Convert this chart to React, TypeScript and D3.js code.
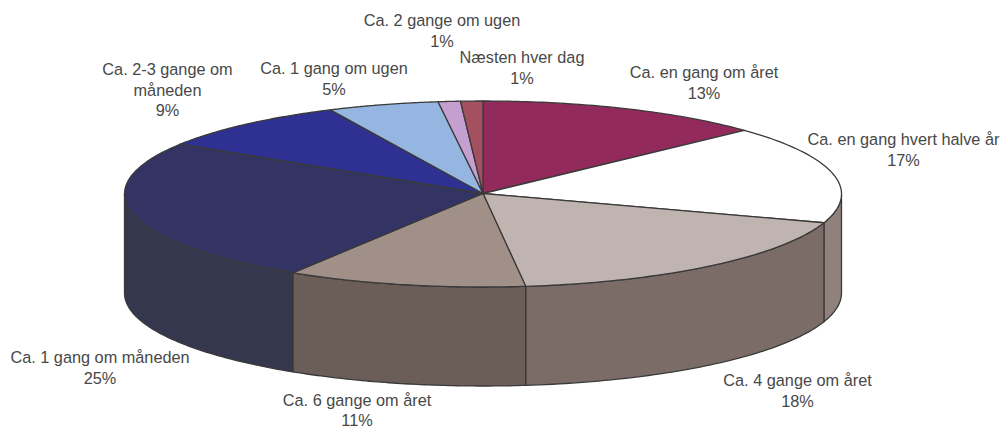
import React, { useRef, useEffect } from 'react';
import * as d3 from 'd3';

const categories = [
  'Ca. en gang om året',
  'Ca. en gang hvert halve år',
  'Ca. 4 gange om året',
  'Ca. 6 gange om året',
  'Ca. 1 gang om måneden',
  'Ca. 2-3 gange om måneden',
  'Ca. 1 gang om ugen',
  'Ca. 2 gange om ugen',
  'Næsten hver dag',
];
const shares = [13, 17, 18.1, 10.8, 25.1, 9, 5, 1, 1];
const topColors = ['#932a5c', '#ffffff', '#c0b4b0', '#a09088', '#333364', '#2e3192', '#95b6e0', '#c49fcf', '#a5505f'];
const sideColors = ['#6e1f45', '#8f817c', '#7b6c68', '#6b5d58', '#35374f', '#22246e', '#708aa8', '#93779b', '#7c3c47'];

// label placement, same order as categories: centre x, first line y, wrapped lines
const labelLines = [
  [704, 78, ['Ca. en gang om året']],
  [903.5, 145, ['Ca. en gang hvert halve år']],
  [797.5, 386, ['Ca. 4 gange om året']],
  [357, 405.5, ['Ca. 6 gange om året']],
  [100, 363, ['Ca. 1 gang om måneden']],
  [167.5, 75, ['Ca. 2-3 gange om', 'måneden']],
  [334, 74, ['Ca. 1 gang om ugen']],
  [442, 26, ['Ca. 2 gange om ugen']],
  [522, 63, ['Næsten hver dag']],
] as [number, number, string[]][];

const W = 1002;
const H = 427;
const cx = 483;
const cy = 194;
const apexY = 193.5;
const rx = 358.5;
const ry = 93;
const depth = 99;
const ink = '#3a3a3a';

const App = () => {
  const chartRef = useRef<SVGSVGElement>(null);

  useEffect(() => {
    const svg = d3.select(chartRef.current);
    svg.selectAll('*').remove();

    const pie = d3.pie<number>().sort(null);
    const slices = pie(shares);

    const px = (a: number) => cx + rx * Math.sin(a);
    const py = (a: number) => cy - ry * Math.cos(a);
    const line = d3.line<[number, number]>();

    const arcPoints = (a0: number, a1: number, dy = 0) =>
      d3.range(0, 61).map((i) => {
        const a = a0 + ((a1 - a0) * i) / 60;
        return [px(a), py(a) + dy] as [number, number];
      });

    // front wall: only the part of each slice between 90 and 270 degrees shows
    const lo = Math.PI / 2;
    const hi = (3 * Math.PI) / 2;
    svg
      .append('g')
      .selectAll('path')
      .data(slices.filter((d) => d.endAngle > lo && d.startAngle < hi))
      .enter()
      .append('path')
      .attr('d', (d) => {
        const a0 = Math.max(d.startAngle, lo);
        const a1 = Math.min(d.endAngle, hi);
        return line([...arcPoints(a0, a1), ...arcPoints(a1, a0, depth)]) + 'Z';
      })
      .attr('fill', (d) => sideColors[d.index])
      .attr('stroke', ink)
      .attr('stroke-width', 1.3)
      .attr('stroke-linejoin', 'round');

    // top face
    svg
      .append('g')
      .selectAll('path')
      .data(slices)
      .enter()
      .append('path')
      .attr('d', (d) => line([[cx, apexY], ...arcPoints(d.startAngle, d.endAngle)]) + 'Z')
      .attr('fill', (d) => topColors[d.index])
      .attr('stroke', ink)
      .attr('stroke-width', 1.3)
      .attr('stroke-linejoin', 'round');

    const labels = svg
      .append('g')
      .attr('font-family', '"Liberation Sans", Arial, sans-serif')
      .attr('font-size', '16.3px')
      .attr('fill', '#484848')
      .attr('text-anchor', 'middle');

    labels
      .selectAll('text')
      .data(labelLines)
      .enter()
      .append('text')
      .attr('aria-label', (d, i) => categories[i])
      .each(function (d, i) {
        d3.select(this)
          .selectAll('tspan')
          .data([...d[2], `${Math.round(shares[i])}%`])
          .enter()
          .append('tspan')
          .attr('x', d[0])
          .attr('y', (_, j) => d[1] + j * 20.6)
          .text((t) => t);
      });
  }, []);

  return <svg ref={chartRef} width={W} height={H} style={{ position: 'absolute', left: 0, top: 0, display: 'block' }}></svg>;
};

export default App;
